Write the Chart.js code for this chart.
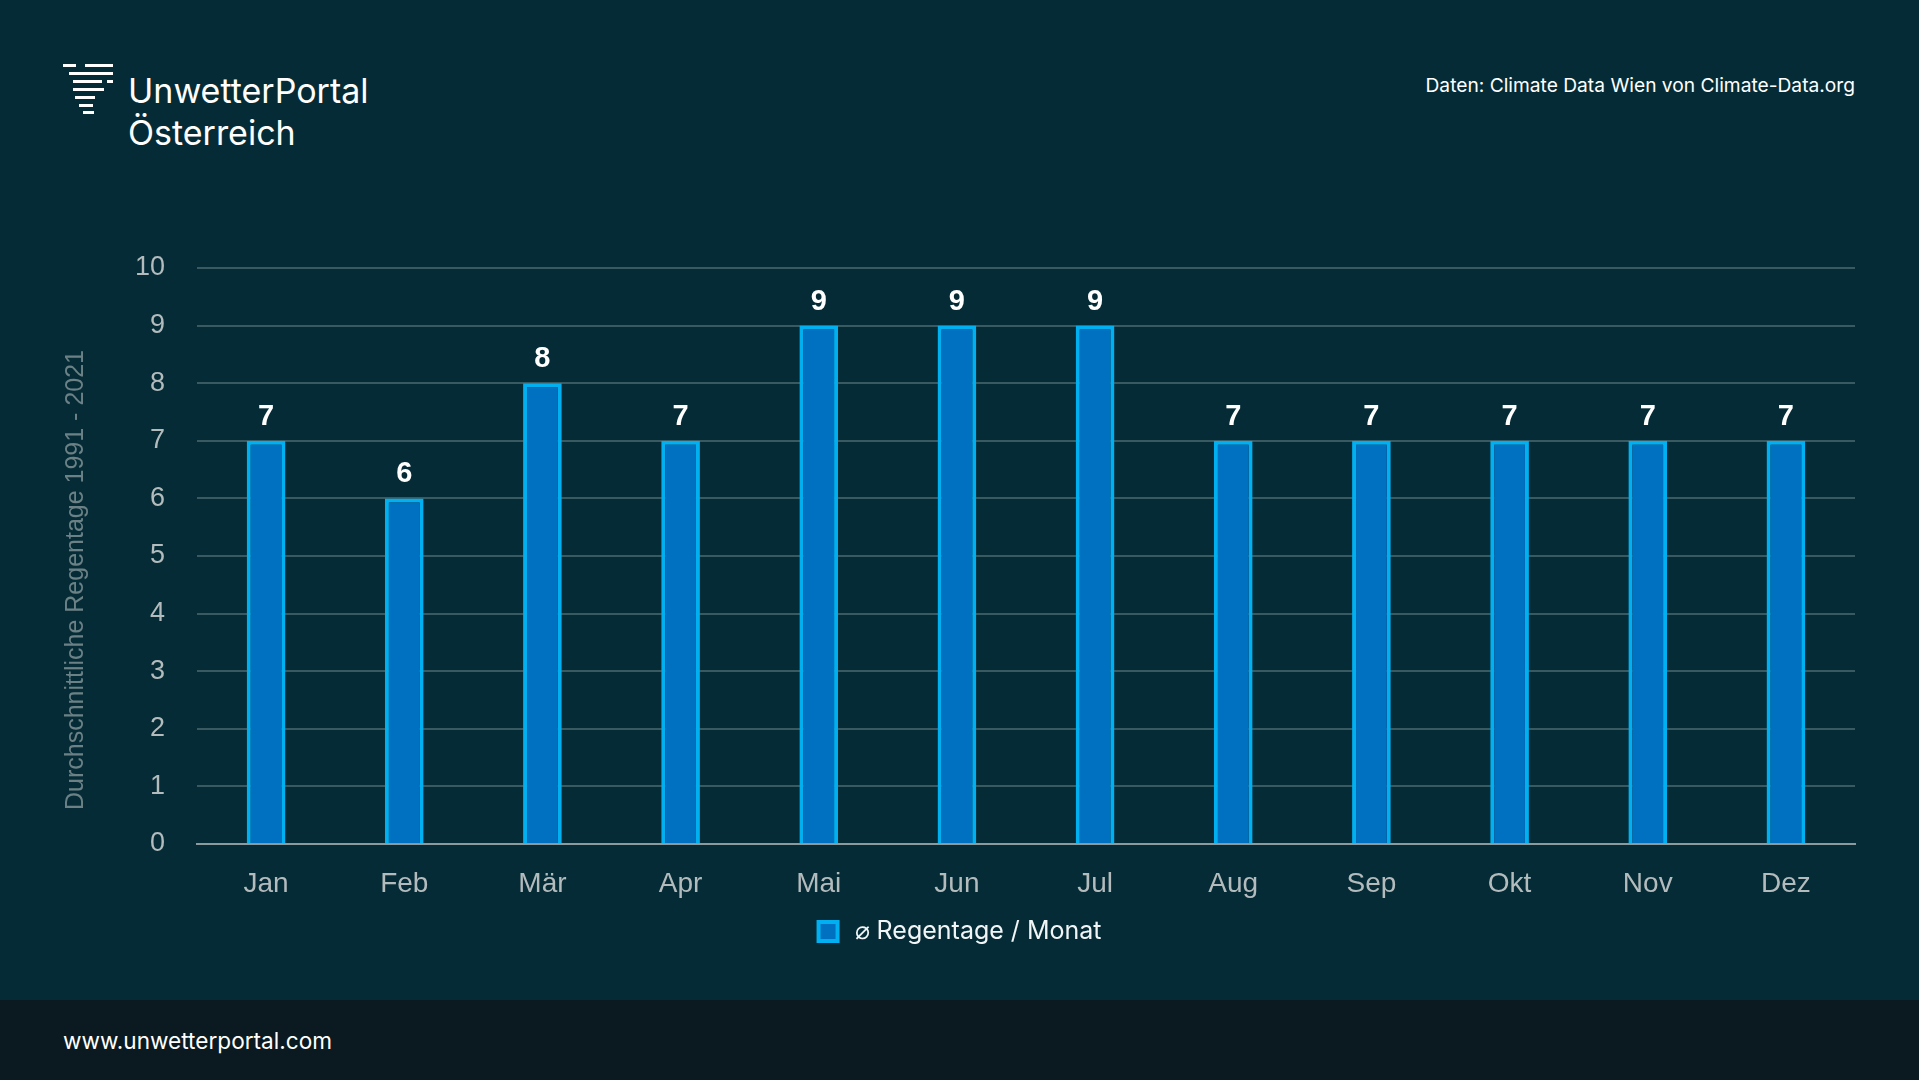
<!DOCTYPE html>
<html>
<head>
<meta charset="utf-8">
<script src="https://cdn.jsdelivr.net/npm/chart.js@4.4.1/dist/chart.umd.min.js"></script>
<style>
  html, body { margin: 0; padding: 0; }
  body { width: 1919px; height: 1080px; background: #052c36; position: relative; overflow: hidden; font-family: Inter, "Noto Sans", sans-serif; }
  .logo span { position: absolute; height: 3px; background: #fff; }
  #brand { position: absolute; left: 128px; top: 70px; color: #fff; font-size: 34px; line-height: 42px; }
  #source { position: absolute; right: 64px; top: 73px; color: #fff; font-size: 19.2px; }
  #footer { position: absolute; left: 0; top: 1000px; width: 1919px; height: 80px; background: #0a1a20; }
  #footer div { position: absolute; left: 63px; top: 27px; color: #fff; font-size: 22.6px; }
  #wrap { position: absolute; left: 50px; top: 200px; width: 1820px; height: 790px; }
</style>
</head>
<body>
<div class="logo">
  <span style="left:63px;top:64px;width:13px"></span>
  <span style="left:85px;top:64px;width:28px"></span>
  <span style="left:69px;top:72px;width:44px"></span>
  <span style="left:73px;top:80px;width:29px"></span>
  <span style="left:107px;top:80px;width:6px"></span>
  <span style="left:73px;top:88px;width:31px"></span>
  <span style="left:75px;top:96px;width:20px"></span>
  <span style="left:79px;top:104px;width:14px"></span>
  <span style="left:83px;top:111px;width:11px"></span>
</div>
<div id="brand">UnwetterPortal<br>Österreich</div>
<div id="source">Daten: Climate Data Wien von Climate-Data.org</div>
<div id="wrap"><canvas id="chart"></canvas></div>
<div id="footer"><div>www.unwetterportal.com</div></div>
<script>
const months = ['Jan', 'Feb', 'Mär', 'Apr', 'Mai', 'Jun', 'Jul', 'Aug', 'Sep', 'Okt', 'Nov', 'Dez'];
const rainDays = [7, 6, 8, 7, 9, 9, 9, 7, 7, 7, 7, 7];
const seriesName = '\u2009\u2300 Regentage / Monat';
const axisTitle = 'Durchschnittliche Regentage 1991 - 2021';

const baseFont = '"Liberation Sans", Arial, sans-serif';

// value labels above the bars + y axis title (sits a bit below the plot centre)
const barLabels = {
    id: 'barLabels',
    afterDatasetsDraw(chart) {
        const ctx = chart.ctx;
        const meta = chart.getDatasetMeta(0);
        ctx.save();
        ctx.fillStyle = '#ffffff';
        ctx.font = 'bold 29px ' + baseFont;
        ctx.textAlign = 'center';
        ctx.textBaseline = 'middle';
        meta.data.forEach((bar, i) => {
            ctx.fillText(chart.data.datasets[0].data[i], bar.x, bar.y - 24);
        });

        const area = chart.chartArea;
        ctx.translate(26, (area.top + area.bottom) / 2 + 24);
        ctx.rotate(-Math.PI / 2);
        ctx.fillStyle = '#6b8186';
        ctx.font = '25px ' + baseFont;
        ctx.fillText(axisTitle, 0, 0);
        ctx.restore();
    }
};

new Chart(document.getElementById('chart'), {
    type: 'bar',
    data: {
        labels: months,
        datasets: [{
            label: seriesName,
            data: rainDays,
            backgroundColor: '#0070c0',
            borderColor: '#00b0f0',
            borderWidth: 4,
            categoryPercentage: 1,
            barPercentage: 0.28
        }]
    },
    options: {
        responsive: true,
        maintainAspectRatio: false,
        animation: false,
        layout: { padding: { top: 68, right: 15, bottom: 36, left: 15 } },
        plugins: {
            tooltip: { enabled: false },
            legend: {
                position: 'bottom',
                labels: {
                    color: '#f2f5f6',
                    font: { family: 'Inter, "Noto Sans", sans-serif', size: 25 },
                    boxWidth: 19,
                    boxHeight: 19,
                    padding: 10
                }
            }
        },
        scales: {
            x: {
                afterFit(scale) { scale.height = 65; },
                grid: { display: false },
                border: { color: '#8c9a9d', width: 2 },
                ticks: { color: '#b3bbbd', font: { family: baseFont, size: 28 }, padding: 15 }
            },
            y: {
                min: 0,
                max: 10,
                afterFit(scale) { scale.width = 132; },
                grid: { color: '#3a5a61', lineWidth: 2, drawTicks: false },
                border: { display: false },
                ticks: { stepSize: 1, color: '#b3bbbd', font: { family: baseFont, size: 27 }, padding: 32 }
            }
        }
    },
    plugins: [barLabels]
});
</script>
</body>
</html>
